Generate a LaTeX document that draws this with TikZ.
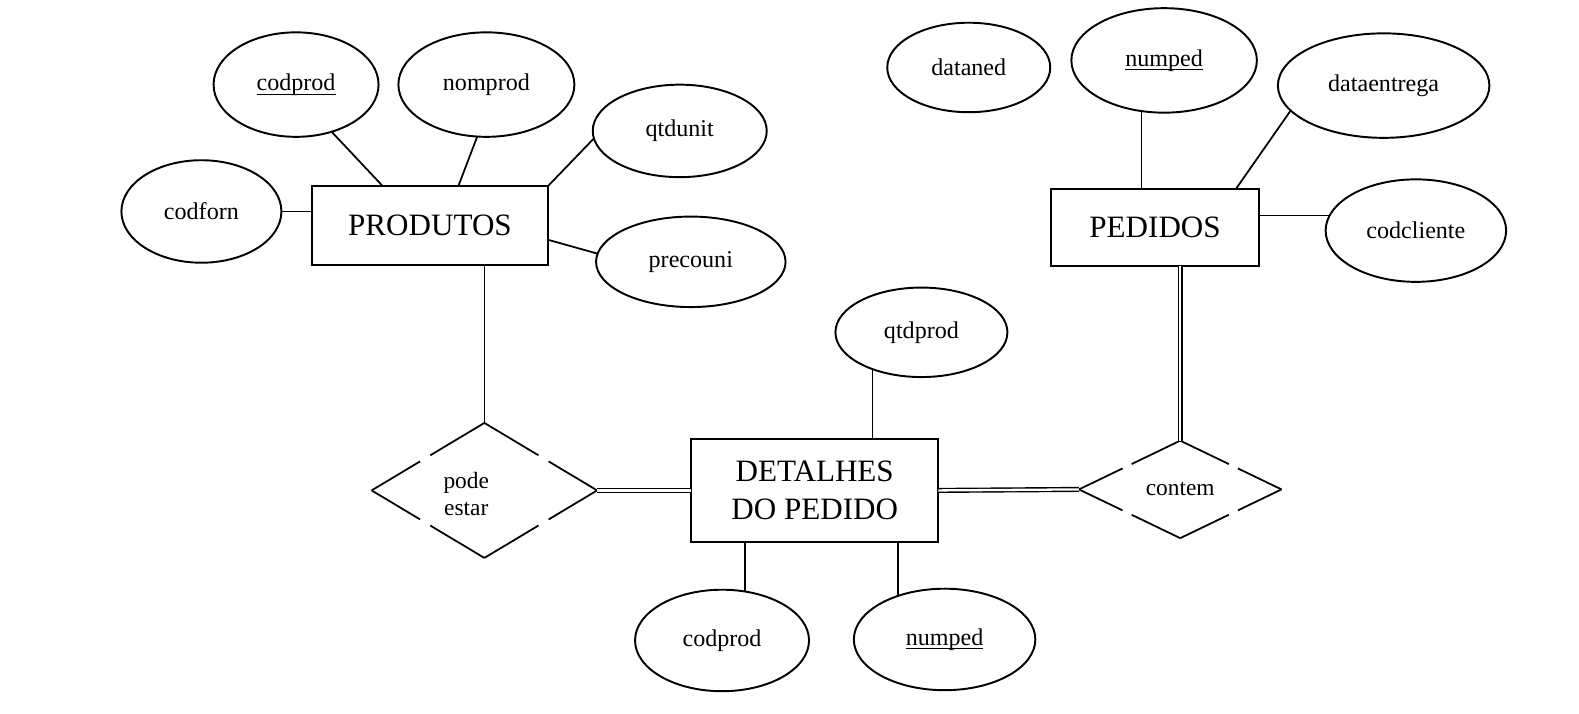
\documentclass[tikz,border=0pt]{standalone}
\usepackage{fontspec}
\setmainfont{Liberation Serif}
\usetikzlibrary{shapes.geometric, calc}
\newcommand{\attrfont}{\fontsize{13.7}{16}\selectfont}
\newcommand{\entfont}{\fontsize{17.7}{22}\selectfont}
\newcommand{\relfont}{\fontsize{13.3}{15.4}\selectfont}
% key attribute: underlined name
\newcommand{\keyattr}[1]{\setbox0=\hbox{#1}\rlap{\rule[-2.4pt]{\wd0}{0.6pt}}\box0}
% diamond edge with one gap in the middle
\newcommand{\gapedge}[2]{\draw[link] (#1) -- ($(#1)!0.43!(#2)$) ($(#1)!0.52!(#2)$) -- (#2);}

\begin{document}
\begin{tikzpicture}[x=0.02014cm, y=-0.02014cm,
    every node/.style={inner sep=0pt, outer sep=0pt},
    attr/.style={draw, ellipse, line width=1.1pt, font=\attrfont},
    ent/.style={draw, rectangle, line width=1.1pt, font=\entfont, align=center},
    rel/.style={diamond, font=\relfont, align=center},
    link/.style={line width=1pt},
    dbl/.style={double, line width=0.8pt, double distance=1.3pt}]
    \useasboundingbox (0,0) rectangle (1568,709);

    % Entity PRODUTOS and its attributes
    \node[ent, minimum width=4.71cm, minimum height=1.57cm] (prod) at (427,224) {PRODUTOS};
    \node[attr, minimum width=3.30cm, minimum height=2.09cm] (codprod) at (294,84) {\keyattr{codprod}};
    \node[attr, minimum width=3.52cm, minimum height=2.09cm] (nomprod) at (483,84) {nomprod};
    \node[attr, minimum width=3.48cm, minimum height=1.85cm] (qtdunit) at (675,130) {qtdunit};
    \node[attr, minimum width=3.20cm, minimum height=2.05cm] (codforn) at (200,210) {codforn};
    \node[attr, minimum width=3.79cm, minimum height=1.81cm] (precouni) at (686,260) {precouni};

    \draw[link] (codprod.307) -- ($(prod.north west)!0.30!(prod.north east)$);
    \draw[link] (nomprod.260) -- ($(prod.north west)!0.62!(prod.north east)$);
    \draw[link] (qtdunit.185) -- (prod.north east);
    \draw[link] (codforn.east) -- (codforn.east -| prod.west);
    \draw[link] ($(prod.north east)!0.68!(prod.south east)$) -- (precouni.175);

    % Relationship pode estar
    \node[rel, minimum width=4.51cm, minimum height=2.70cm] (pode) at (481,487) {};
    \node[font=\relfont, align=center] (podetxt) at (463,491) {pode\\estar};
    \gapedge{pode.west}{pode.north}
    \gapedge{pode.west}{pode.south}
    \gapedge{pode.east}{pode.north}
    \gapedge{pode.east}{pode.south}
    \draw[link] (pode.north |- prod.south) -- (pode.north);

    % Entity DETALHES DO PEDIDO and its attributes
    \node[ent, minimum width=4.95cm, minimum height=2.05cm] (det) at (809,487) {DETALHES\\DO PEDIDO};
    \node[attr, minimum width=3.44cm, minimum height=1.79cm] (qtdprod) at (915,330) {qtdprod};
    \node[attr, minimum width=3.48cm, minimum height=2.03cm] (detcod) at (717,636) {codprod};
    \node[attr, minimum width=3.63cm, minimum height=2.03cm] (detnum) at (938,635) {\keyattr{numped}};

    \draw[dbl] (pode.east) -- (det.west);
    \draw[link] (qtdprod.217) -- (qtdprod.217 |- det.north);
    \draw[link] (detcod.65) -- (detcod.65 |- det.south);
    \draw[link] (detnum.137) -- (detnum.137 |- det.south);

    % Relationship contem
    \node[rel, minimum width=4.05cm, minimum height=1.95cm] (contem) at (1172,486) {contem};
    \gapedge{contem.west}{contem.north}
    \gapedge{contem.west}{contem.south}
    \gapedge{contem.east}{contem.north}
    \gapedge{contem.east}{contem.south}
    \draw[dbl] (det.east) -- (contem.west);

    % Entity PEDIDOS and its attributes
    \node[ent, minimum width=4.15cm, minimum height=1.55cm] (ped) at (1147,226) {PEDIDOS};
    \node[attr, minimum width=3.26cm, minimum height=1.79cm] (dataped) at (962,67) {dataned};
    \node[attr, minimum width=3.71cm, minimum height=2.09cm] (numped) at (1156,60) {\keyattr{numped}};
    \node[attr, minimum width=4.23cm, minimum height=2.09cm] (dataent) at (1374,85) {dataentrega};
    \node[attr, minimum width=3.61cm, minimum height=2.05cm] (codcli) at (1406,229) {codcliente};

    \draw[link] (numped.246) -- (numped.246 |- ped.north);
    \draw[link] (dataent.195) -- ($(ped.north west)!0.89!(ped.north east)$);
    \draw[link] (codcli.170 -| ped.east) -- (codcli.170);
    \draw[dbl] (contem.north |- ped.south) -- (contem.north);
\end{tikzpicture}
\end{document}
